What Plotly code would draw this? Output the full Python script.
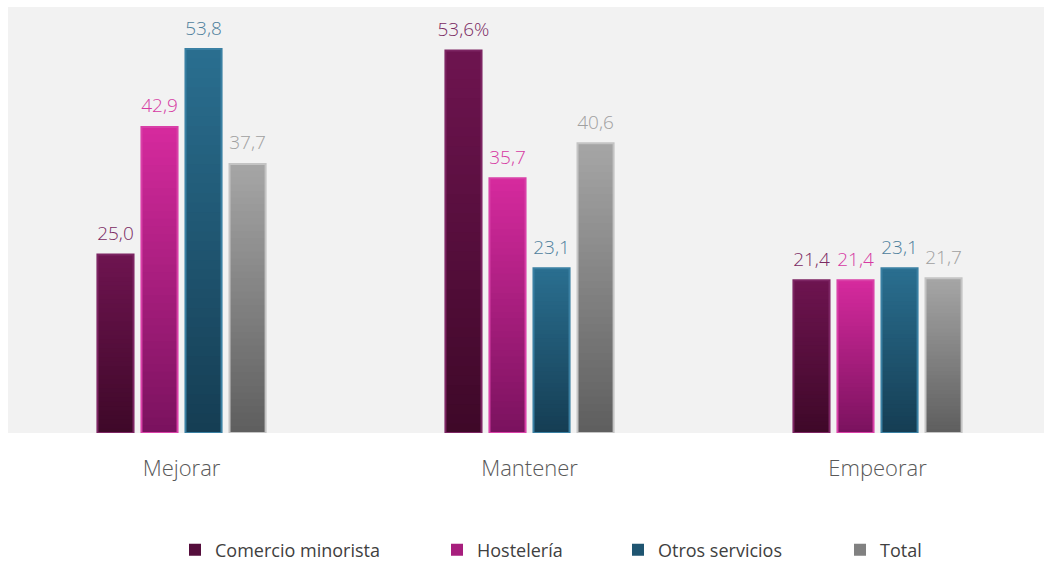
import plotly.graph_objects as go

# Chart data
categories = ["Mejorar", "Mantener", "Empeorar"]
series_names = ["Comercio minorista", "Hostelería", "Otros servicios", "Total"]
comercio = [25.0, 53.6, 21.4]
hosteleria = [42.9, 35.7, 21.4]
otros = [53.8, 23.1, 23.1]
total = [37.7, 40.6, 21.7]
label_suffix = [["", "%", ""], ["", "", ""], ["", "", ""], ["", "", ""]]

series_values = [comercio, hosteleria, otros, total]

# Styling: (top colour, bottom colour, border colour, label colour)
styles = [
    ((0x6E, 0x14, 0x50), (0x3E, 0x08, 0x28), "#7d2563", "#7a2a62"),
    ((0xD6, 0x2A, 0x9E), (0x7A, 0x12, 0x5E), "#d940a8", "#d63aa3"),
    ((0x2A, 0x6F, 0x90), (0x15, 0x3D, 0x53), "#3a80a3", "#4e809c"),
    ((0xA6, 0xA6, 0xA6), (0x5E, 0x5E, 0x5E), "#c4c4c4", "#a0a0a0"),
]

# left edge of each legend entry, as a fraction of the plot width
legend_x = [0.1612, 0.4141, 0.5888, 0.8031]

N_STEPS = 40
FONT = "Open Sans"


def mix(top, bottom, t):
    r, g, b = (round(bottom[i] + (top[i] - bottom[i]) * t) for i in range(3))
    return f"rgb({r},{g},{b})"


fig = go.Figure()

for s, (name, vals) in enumerate(zip(series_names, series_values)):
    top, bottom, border, lab = styles[s]
    legend_id = "legend" if s == 0 else f"legend{s + 1}"
    # vertical gradient: nested bars, each shorter one painted over the taller
    for k in range(N_STEPS):
        frac = (N_STEPS - k) / N_STEPS
        t = (N_STEPS - k - 0.5) / N_STEPS
        fig.add_trace(go.Bar(
            x=categories,
            y=[v * frac for v in vals],
            offsetgroup=name,
            marker=dict(color=mix(top, bottom, t), line=dict(width=0)),
            name=name,
            legendgroup=name,
            legend=legend_id,
            showlegend=(k == N_STEPS // 2),
            hoverinfo="skip",
        ))
    # bar outline
    fig.add_trace(go.Bar(
        x=categories,
        y=vals,
        offsetgroup=name,
        marker=dict(color="rgba(0,0,0,0)", line=dict(color=border, width=2)),
        name=name,
        legendgroup=name,
        legend=legend_id,
        showlegend=False,
    ))
    # value labels above each bar
    fig.add_trace(go.Scatter(
        x=categories,
        y=vals,
        offsetgroup=name,
        mode="markers+text",
        marker=dict(size=14, color="rgba(0,0,0,0)"),
        text=[f"{v:.1f}".replace(".", ",") + suf for v, suf in zip(vals, label_suffix[s])],
        textposition="top center",
        textfont=dict(family=FONT, size=19, color=lab, weight=300),
        cliponaxis=False,
        name=name,
        legendgroup=name,
        legend=legend_id,
        showlegend=False,
        hoverinfo="skip",
    ))

legend_common = dict(
    orientation="h",
    y=-0.2746,
    xanchor="left",
    yanchor="middle",
    font=dict(family=FONT, size=18, color="#404040"),
    itemwidth=30,
    bgcolor="rgba(0,0,0,0)",
)

fig.update_layout(
    width=1044,
    height=561,
    barmode="group",
    bargap=0.494,
    bargroupgap=0.18,
    scattermode="group",
    scattergap=0.494,
    paper_bgcolor="white",
    plot_bgcolor="#f2f2f2",
    margin=dict(l=8, r=0, t=7, b=128, autoexpand=False),
    font=dict(family=FONT, color="#595959"),
    xaxis=dict(
        range=[-0.4986, 2.4784],
        showgrid=False,
        zeroline=False,
        showline=False,
        ticks="",
        ticklabelstandoff=20,
        tickfont=dict(family=FONT, size=22, color="#595959", weight=300),
        fixedrange=True,
    ),
    yaxis=dict(
        range=[0, 59.7],
        visible=False,
        fixedrange=True,
    ),
    legend=dict(x=legend_x[0], **legend_common),
    legend2=dict(x=legend_x[1], **legend_common),
    legend3=dict(x=legend_x[2], **legend_common),
    legend4=dict(x=legend_x[3], **legend_common),
    showlegend=True,
)

fig.write_html("out.html")
